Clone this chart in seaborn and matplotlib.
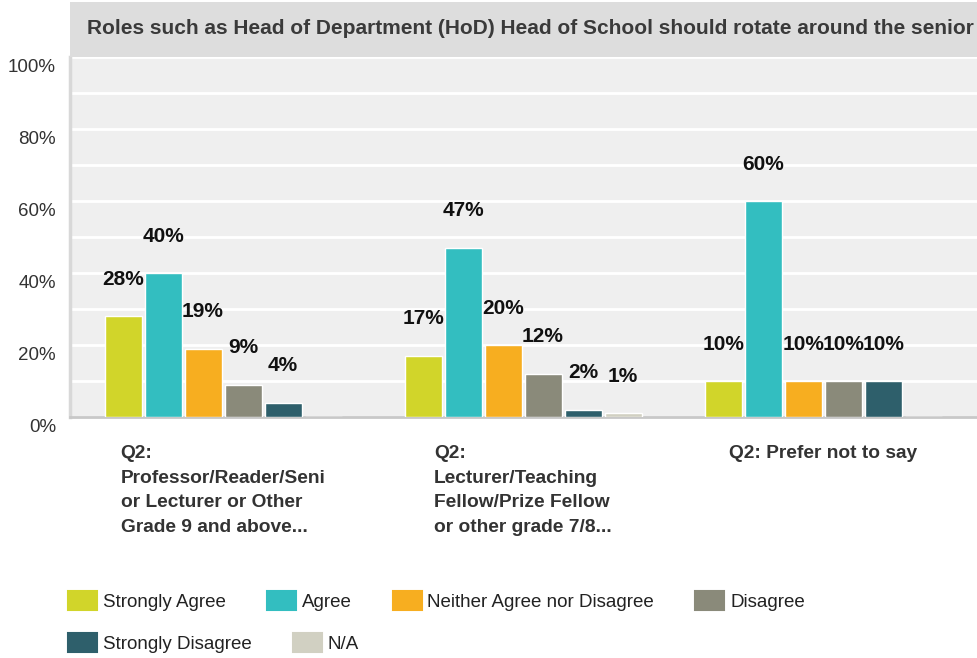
import pandas as pd
import seaborn as sns
import matplotlib.pyplot as plt
from matplotlib.patches import Patch, Rectangle
from matplotlib.transforms import ScaledTranslation

# chart data
groups = [
    "Q2:\nProfessor/Reader/Seni\nor Lecturer or Other\nGrade 9 and above...",
    "Q2:\nLecturer/Teaching\nFellow/Prize Fellow\nor other grade 7/8...",
    "Q2: Prefer not to say",
]
answers = ["Strongly Agree", "Agree", "Neither Agree nor Disagree",
           "Disagree", "Strongly Disagree", "N/A"]
strongly_agree = [28, 17, 10]
agree = [40, 47, 60]
neither = [19, 20, 10]
disagree = [9, 12, 10]
strongly_disagree = [4, 2, 10]
not_applicable = [0, 1, 0]
colors = ["#d1d52a", "#33bec0", "#f7ae20", "#8a8a7a", "#2e5f6b", "#d1d0c2"]
title = "Roles such as Head of Department (HoD) Head of School should rotate around the senior"

series = [strongly_agree, agree, neither, disagree, strongly_disagree, not_applicable]
rows = []
for answer, vals in zip(answers, series):
    for g, v in zip(groups, vals):
        rows.append({"group": g, "answer": answer, "value": v})
df = pd.DataFrame(rows)

sns.set_theme(style="white")
plt.rcParams["font.family"] = ["Liberation Sans", "DejaVu Sans"]

W, H = 977, 658
fig = plt.figure(figsize=(W / 100, H / 100), dpi=100)
fig.patch.set_facecolor("white")

# title bar
fig.patches.append(Rectangle((70 / W, 1 - 57 / H), 907 / W, 55 / H,
                             transform=fig.transFigure, facecolor="#dddddd",
                             edgecolor="none", zorder=0))
fig.text(87 / W, 1 - 28 / H, title, fontsize=15, fontweight="bold",
         color="#3a3a3a", va="center", ha="left")

ax = fig.add_axes([70 / W, (H - 417) / H, 907 / W, 360 / H])
ax.set_facecolor("#efefef")

sns.barplot(data=df, x="group", y="value", hue="answer", order=groups,
            hue_order=answers, palette=colors, saturation=1, width=0.8, gap=0.075,
            errorbar=None, legend=False, ax=ax, zorder=3)

ax.set_xlim(-0.51, 2.513)
ax.set_ylim(0, 100)
ax.set_yticks(range(0, 101, 10))
ax.set_yticklabels([f"{t}%" if t % 20 == 0 else "" for t in range(0, 101, 10)])
ax.yaxis.grid(True, color="white", linewidth=2, zorder=1)
ax.set_axisbelow(True)
ax.tick_params(axis="y", length=0, pad=10, labelsize=13.5, labelcolor="#333333")
ax.tick_params(axis="x", length=0, pad=20, labelsize=13.8, labelcolor="#333333")
for lab in ax.get_yticklabels():
    lab.set_transform(lab.get_transform() + ScaledTranslation(0, -8 / 100, fig.dpi_scale_trans))
for lab in ax.get_xticklabels():
    lab.set_fontweight("bold")
    lab.set_multialignment("left")
    lab.set_linespacing(1.6)
ax.set_xlabel("")
ax.set_ylabel("")

for side in ["top", "right"]:
    ax.spines[side].set_visible(False)
ax.spines["left"].set_color("#d8d8d8")
ax.spines["left"].set_linewidth(2.5)
ax.spines["bottom"].set_color("#c8c8c8")
ax.spines["bottom"].set_linewidth(2)

# value labels
for container, vals in zip(ax.containers, series):
    for bar, v in zip(container, vals):
        if v == 0:
            continue
        ax.annotate(f"{v}%", (bar.get_x() + bar.get_width() / 2, bar.get_height()),
                    xytext=(0, 26.5), textcoords="offset points", ha="center",
                    va="center", fontsize=15, fontweight="bold", color="#111111")

# legend in two rows
handles = [Patch(facecolor=c, edgecolor=c, linewidth=1.5, joinstyle="round") for c in colors]
leg_kw = dict(loc="center left", frameon=False, fontsize=13.5, handlelength=1.55,
              handleheight=1.15, handletextpad=0.3, columnspacing=2.2,
              borderpad=0, borderaxespad=0, labelcolor="#222222")
leg1 = fig.legend(handles[:4], answers[:4], ncol=4,
                  bbox_to_anchor=(68 / W, (H - 601) / H), **leg_kw)
leg2 = fig.legend(handles[4:], answers[4:], ncol=2,
                  bbox_to_anchor=(68 / W, (H - 643) / H), **leg_kw)

fig.savefig("out.png", dpi=100)
